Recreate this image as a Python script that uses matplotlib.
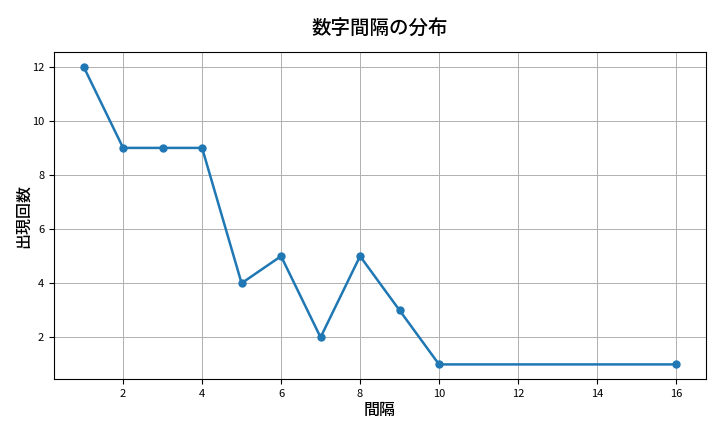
import matplotlib
matplotlib.use('Agg')
import matplotlib.pyplot as plt

plt.rcParams['font.family'] = ['Noto Sans CJK JP', 'DejaVu Sans']

gaps = [1, 2, 3, 4, 5, 6, 7, 8, 9, 10, 16]
counts = [12, 9, 9, 9, 4, 5, 2, 5, 3, 1, 1]

fig, ax = plt.subplots(figsize=(7.2, 4.32), dpi=100)
ax.plot(gaps, counts, marker='o', color='#1f77b4', linewidth=1.8, markersize=5)
ax.set_title('数字間隔の分布', fontsize=14, fontweight='medium', pad=12)
ax.set_xlabel('間隔', fontsize=11.5, fontweight='medium', labelpad=2)
ax.set_ylabel('出現回数', fontsize=11.5, fontweight='medium', labelpad=0)
ax.tick_params(labelsize=8)
ax.grid(True, color='#b0b0b0', linewidth=0.7)
ax.set_xticks([2, 4, 6, 8, 10, 12, 14, 16])
ax.set_yticks([2, 4, 6, 8, 10, 12])
plt.subplots_adjust(left=0.075, right=0.98, top=0.88, bottom=0.122)
plt.savefig('out.png')
